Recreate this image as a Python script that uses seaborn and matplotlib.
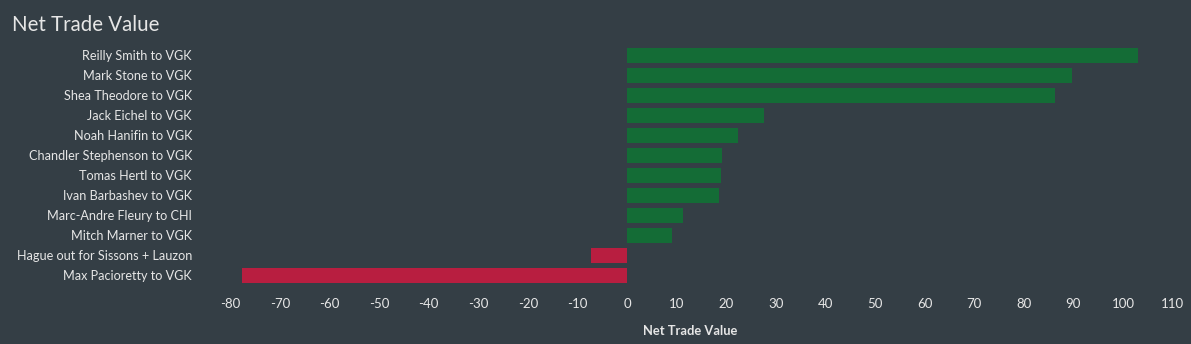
import matplotlib
matplotlib.use("Agg")
import matplotlib.pyplot as plt
import seaborn as sns
import pandas as pd

trades = [
    "Reilly Smith to VGK",
    "Mark Stone to VGK",
    "Shea Theodore to VGK",
    "Jack Eichel to VGK",
    "Noah Hanifin to VGK",
    "Chandler Stephenson to VGK",
    "Tomas Hertl to VGK",
    "Ivan Barbashev to VGK",
    "Marc-Andre Fleury to CHI",
    "Mitch Marner to VGK",
    "Hague out for Sissons + Lauzon",
    "Max Pacioretty to VGK",
]
values = [103.0, 89.7, 86.3, 27.6, 22.4, 19.2, 19.0, 18.5, 11.3, 9.1, -7.3, -77.6]
xticks = list(range(-80, 111, 10))

BG = "#343e45"
GREEN = "#146c36"
RED = "#b81e40"
TXT = "#e6e6e6"

sns.set_theme(style="white")
plt.rcParams["font.family"] = ["Lato", "DejaVu Sans"]

df = pd.DataFrame({"trade": trades, "value": values})
df["sign"] = ["pos" if v >= 0 else "neg" for v in values]

fig = plt.figure(figsize=(11.91, 3.44), dpi=100, facecolor=BG)
ax = fig.add_axes([210 / 1191, 1 - 285 / 344, (1188 - 210) / 1191, 240 / 344])
ax.set_facecolor(BG)

sns.barplot(data=df, x="value", y="trade", hue="sign", order=trades,
            palette={"pos": GREEN, "neg": RED}, width=0.75, dodge=False,
            legend=False, ax=ax, saturation=1, linewidth=0, edgecolor="none")

ax.set_xlim(-84.1, 113.1)
ax.set_ylim(11.5, -0.5)
ax.set_xticks(xticks)
ax.set_xticklabels([str(t) for t in xticks])
for s in ax.spines.values():
    s.set_visible(False)
ax.tick_params(axis="x", length=0, pad=9, labelsize=9.5, labelcolor=TXT)
ax.tick_params(axis="y", length=0, pad=13, labelsize=9.1, labelcolor=TXT)
ax.set_ylabel("")
ax.set_xlabel("Net Trade Value", color=TXT, fontsize=9.3, fontweight="bold")
ax.xaxis.set_label_coords((690 - 210) / (1188 - 210), -0.165)

fig.text(12 / 1191, 1 - 31 / 344, "Net Trade Value", color=TXT, fontsize=14.8,
         ha="left", va="baseline")

fig.savefig("out.png", dpi=100, facecolor=BG)
